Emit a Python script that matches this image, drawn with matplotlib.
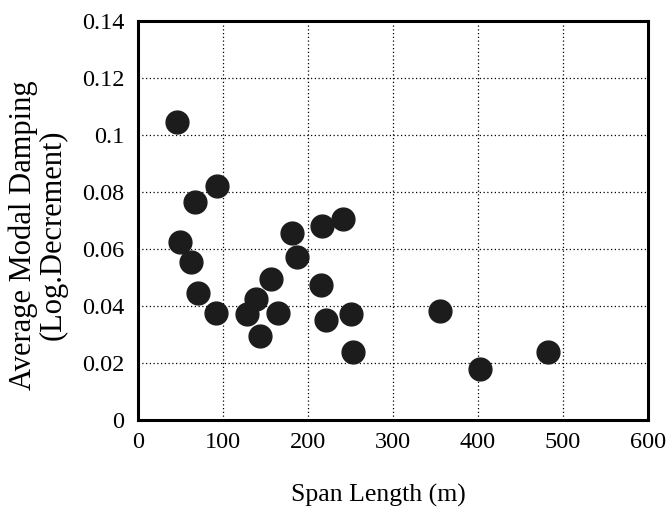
import matplotlib
matplotlib.use("Agg")
import matplotlib.pyplot as plt

# span length (m) vs average modal damping (log. decrement)
span = [46, 93, 67, 49, 62, 70, 92, 128, 139, 144, 156, 165, 181, 187,
        217, 241, 215, 221, 251, 253, 355, 403, 483]
damping = [0.1045, 0.0822, 0.0766, 0.0623, 0.0553, 0.0445, 0.0374, 0.0371,
           0.0426, 0.0296, 0.0495, 0.0374, 0.0657, 0.0572, 0.0681, 0.0706,
           0.0474, 0.0351, 0.0372, 0.0240, 0.0382, 0.0179, 0.0240]

xticks = [0, 100, 200, 300, 400, 500, 600]
yticks = [0, 0.02, 0.04, 0.06, 0.08, 0.1, 0.12, 0.14]
ytick_labels = ["0", "0.02", "0.04", "0.06", "0.08", "0.1", "0.12", "0.14"]

plt.rcParams["font.family"] = ["Liberation Serif", "DejaVu Serif"]

fig = plt.figure(figsize=(6.7, 5.14), dpi=100)
ax = fig.add_axes([0.206, 0.183, 0.761, 0.776])

ax.scatter(span, damping, s=270, color="#1c1c1c", zorder=3)

ax.set_xlim(0, 600)
ax.set_ylim(0, 0.14)
ax.set_xticks(xticks)
ax.set_xticklabels([str(t) for t in xticks])
ax.set_yticks(yticks)
ax.set_yticklabels(ytick_labels)
ax.tick_params(length=0, labelsize=17.5)
ax.tick_params(axis="y", pad=10)
ax.tick_params(axis="x", pad=9)
ax.grid(True, color="black", linestyle=(0, (1, 2)), linewidth=0.9)

for s in ax.spines.values():
    s.set_linewidth(2.2)

fig.text(378 / 670, 1 - 495 / 514, "Span Length (m)", fontsize=18.5,
         ha="center", va="center")
fig.text(38 / 670, 1 - 235 / 514, "Average Modal Damping\n(Log.Decrement)",
         fontsize=22, rotation=90, ha="center", va="center", linespacing=1.0,
         multialignment="center")

fig.savefig("out.png", dpi=100)
